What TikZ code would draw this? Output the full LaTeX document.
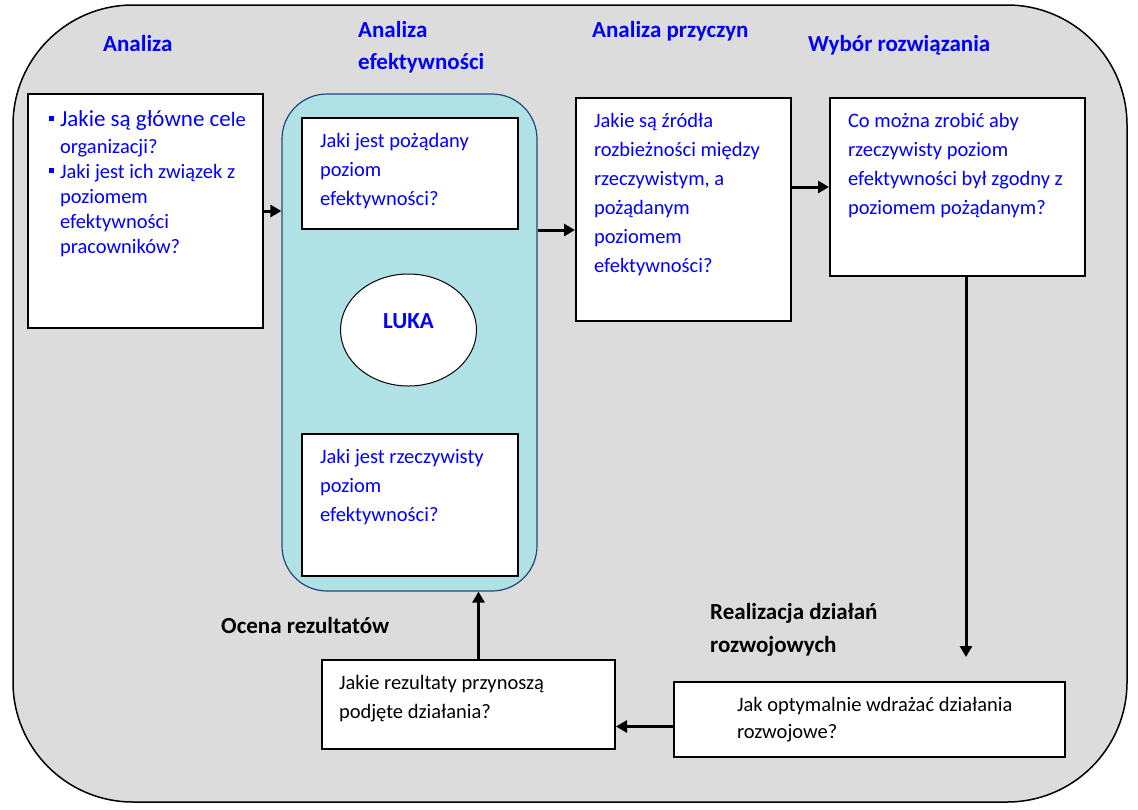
\documentclass[tikz,border=0pt]{standalone}
\usepackage{fontspec}
\setmainfont{Carlito}
\usetikzlibrary{arrows.meta}
\usetikzlibrary{shapes.geometric}
\definecolor{tlo}{RGB}{220,220,220}
\definecolor{turkus}{RGB}{176,225,228}
\definecolor{granat}{RGB}{31,73,125}
\definecolor{niebieski}{RGB}{0,0,255}

\begin{document}
\begin{tikzpicture}
[x=1pt,y=-1pt,>={Triangle[length=11pt,width=12pt]},%
  plansza/.style={draw,line width=1.5pt,fill=tlo,rounded corners=120pt,inner sep=0pt},%
  pytanie/.style={draw,line width=2pt,fill=white,anchor=north west,inner ysep=0pt,
    align=flush left,text=niebieski,font=\fontsize{20.5}{29}\selectfont},%
  naglowek/.style={anchor=base west,inner sep=0pt,text=niebieski,
    font=\bfseries\fontsize{23}{32}\selectfont},%
  strzalka/.style={->,line width=3pt}]
\useasboundingbox (0,0) rectangle (1138,809);
\node[plansza,minimum width=1114pt,minimum height=797pt] (plansza) at (570,403.5) {};
\node[draw=granat,line width=1.2pt,fill=turkus,rounded corners=45pt,
  minimum width=255pt,minimum height=497pt,inner sep=0pt] (efekt) at (409.5,342.5) {};
% naglowki etapow
\node[naglowek] (t-analiza) at (103,51) {Analiza};
\node[naglowek,text width=200pt,align=flush left] (t-efekt) at (358,37) {Analiza\\ efektywności};
\node[naglowek] (t-przyczyny) at (592,37) {Analiza przyczyn};
\node[naglowek] (t-wybor) at (808,51) {Wybór rozwiązania};
\node[naglowek,text=black] (t-ocena) at (221,633) {Ocena rezultatów};
\node[naglowek,text=black,text width=200pt,align=flush left,
  font=\bfseries\fontsize{23}{33}\selectfont] (t-realizacja) at (710,619)
  {Realizacja działań\\ rozwojowych};
% pytania
\node[pytanie,inner xsep=21pt,text width=193pt,text height=32pt,text depth=202pt,
  font=\fontsize{20.5}{25}\selectfont] (cele) at (27,93)
  {\mbox{\makebox[11pt][l]{\rule[5.5pt]{5pt}{5pt}}{\fontsize{23}{25}\selectfont Jakie są główne ce}le}\\[2pt]
   \makebox[11pt]{}organizacji?\\
   \makebox[11pt][l]{\rule[5.5pt]{5pt}{5pt}}Jaki jest ich związek z\\
   \makebox[11pt]{}poziomem\\
   \makebox[11pt]{}efektywności\\
   \makebox[11pt]{}pracowników?};
\node[pytanie,inner xsep=18pt,text width=180pt,text height=29pt,text depth=82pt] (pozadany) at (301,117)
  {Jaki jest pożądany\\ poziom\\ efektywności?};
\node[draw,line width=1pt,fill=white,ellipse,minimum width=136pt,minimum height=112pt,
  inner sep=0pt,text depth=18pt,text=niebieski,
  font=\bfseries\fontsize{23}{26}\selectfont] (luka) at (408.5,330) {LUKA};
\node[pytanie,inner xsep=18pt,text width=180pt,text height=29pt,text depth=113pt] (rzeczywisty) at (301,433)
  {Jaki jest rzeczywisty\\ poziom\\ efektywności?};
\node[pytanie,inner xsep=18pt,text width=179pt,text height=29pt,text depth=194pt] (zrodla) at (575,97)
  {Jakie są źródła\\ rozbieżności między\\ rzeczywistym, a\\ pożądanym\\ poziomem\\ efektywności?};
\node[pytanie,inner xsep=18pt,text width=219pt,text height=29pt,text depth=149pt] (wybor) at (829,97)
  {Co można zrobić aby\\ rzeczywisty poziom\\ \mbox{efektywności był zgodny z}\\ poziomem pożądanym?};
\node[pytanie,text=black,inner xsep=17pt,text width=259pt,text height=29pt,text depth=60pt] (ocena) at (321,659)
  {Jakie rezultaty przynoszą\\ podjęte działania?};
\node[pytanie,text=black,inner xsep=18pt,text width=355pt,text height=29pt,text depth=46pt,
  font=\fontsize{20.5}{27}\selectfont] (wdrazanie) at (673,681)
  {\makebox[45pt]{}Jak optymalnie wdrażać działania\\ \makebox[45pt]{}rozwojowe?};
% strzalki
\coordinate (dol) at (966,657);
\draw[strzalka] (cele.east) -- (cele.east -| efekt.west);
\draw[strzalka] (efekt.east |- pozadany.south) -- (zrodla.west |- pozadany.south);
\draw[strzalka] (zrodla.east |- wybor.west) -- (wybor.west);
\draw[strzalka] (wybor.south -| dol) -- (dol);
\draw[strzalka] ([yshift=-7pt]wdrazanie.west) -- ([yshift=-7pt]wdrazanie.west -| ocena.east);
\draw[strzalka] ([xshift=10pt]ocena.north) -- ([xshift=10pt]ocena.north |- efekt.south);
\end{tikzpicture}
\end{document}
